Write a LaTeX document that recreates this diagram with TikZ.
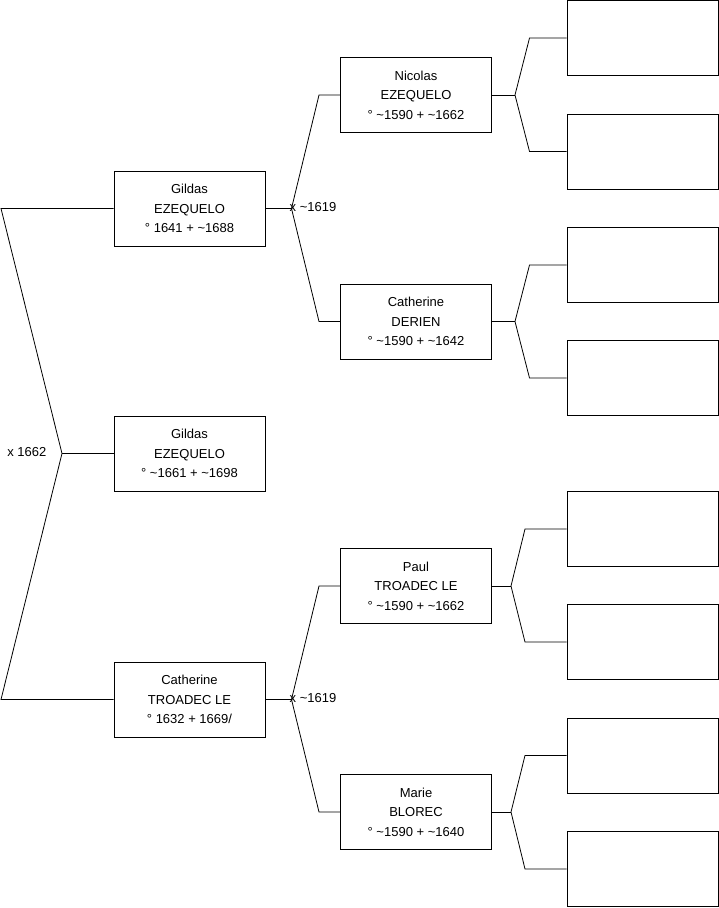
\documentclass[tikz,border=0pt]{standalone}
\usepackage{fontspec}
\setmainfont{Liberation Sans}
\begin{document}
\begin{tikzpicture}[x=1pt,y=-1pt,
  person/.style={draw=black, line width=0.8pt, minimum width=151pt, minimum height=75pt, inner sep=0pt, align=center, font=\fontsize{13}{19.5}\selectfont},
  link/.style={draw=black, line width=0.8pt},
  lbl/.style={font=\fontsize{13}{15}\selectfont, inner sep=0pt}]
\useasboundingbox (0,0) rectangle (719,908);

% generation 1
\node[person] (g1) at (189.5,208.5) {Gildas\\EZEQUELO\\° 1641 + \textasciitilde1688};
\node[person] (g0) at (189.5,453.5) {Gildas\\EZEQUELO\\° \textasciitilde1661 + \textasciitilde1698};
\node[person] (g2) at (189.5,699.5) {Catherine\\TROADEC LE\\° 1632 + 1669/};

% generation 2
\node[person] (p1) at (416,95) {Nicolas\\EZEQUELO\\° \textasciitilde1590 + \textasciitilde1662};
\node[person] (p2) at (416,321.5) {Catherine\\DERIEN\\° \textasciitilde1590 + \textasciitilde1642};
\node[person] (p3) at (416,586) {Paul\\TROADEC LE\\° \textasciitilde1590 + \textasciitilde1662};
\node[person] (p4) at (416,812) {Marie\\BLOREC\\° \textasciitilde1590 + \textasciitilde1640};

% generation 3 (empty)
\node[person] (q1) at (642.5,38) {};
\node[person] (q2) at (642.5,151.5) {};
\node[person] (q3) at (642.5,265) {};
\node[person] (q4) at (642.5,378) {};
\node[person] (q5) at (642.5,529) {};
\node[person] (q6) at (642.5,642) {};
\node[person] (q7) at (642.5,755.5) {};
\node[person] (q8) at (642.5,869) {};

% junction coordinates
\coordinate (a1) at (1,208.5);
\coordinate (a2) at (1,699.5);
\coordinate (j0) at (62,453.5);

\coordinate (j1) at (291.5,208.5);
\coordinate (b1) at (319,95);
\coordinate (b2) at (319,321.5);
\coordinate (j2) at (291.5,699.5);
\coordinate (b3) at (319,586);
\coordinate (b4) at (319,812);

\coordinate (k1) at (515,95);
\coordinate (c1) at (529.5,38);
\coordinate (c2) at (529.5,151.5);
\coordinate (k2) at (515,321.5);
\coordinate (c3) at (529.5,265);
\coordinate (c4) at (529.5,378);
\coordinate (k3) at (511,586);
\coordinate (c5) at (525,529);
\coordinate (c6) at (525,642);
\coordinate (k4) at (511,812);
\coordinate (c7) at (525,755.5);
\coordinate (c8) at (525,869);

% connectors
\draw[link] (g1.west) -- (a1) -- (j0) -- (a2) -- (g2.west);
\draw[link] (j0) -- (g0.west);

\draw[link] (g1.east) -- (j1);
\draw[link] (p1.west) -- (b1) -- (j1) -- (b2) -- (p2.west);
\draw[link] (g2.east) -- (j2);
\draw[link] (p3.west) -- (b3) -- (j2) -- (b4) -- (p4.west);

\draw[link] (p1.east) -- (k1);
\draw[link] (q1.west) -- (c1) -- (k1) -- (c2) -- (q2.west);
\draw[link] (p2.east) -- (k2);
\draw[link] (q3.west) -- (c3) -- (k2) -- (c4) -- (q4.west);
\draw[link] (p3.east) -- (k3);
\draw[link] (q5.west) -- (c5) -- (k3) -- (c6) -- (q6.west);
\draw[link] (p4.east) -- (k4);
\draw[link] (q7.west) -- (c7) -- (k4) -- (c8) -- (q8.west);

% marriage labels
\node[lbl, anchor=base east] (m0) at (46.5,456) {x 1662};
\node[lbl, anchor=base west] (m1) at (289.5,211) {x \textasciitilde1619};
\node[lbl, anchor=base west] (m2) at (289.5,702) {x \textasciitilde1619};
\end{tikzpicture}
\end{document}
